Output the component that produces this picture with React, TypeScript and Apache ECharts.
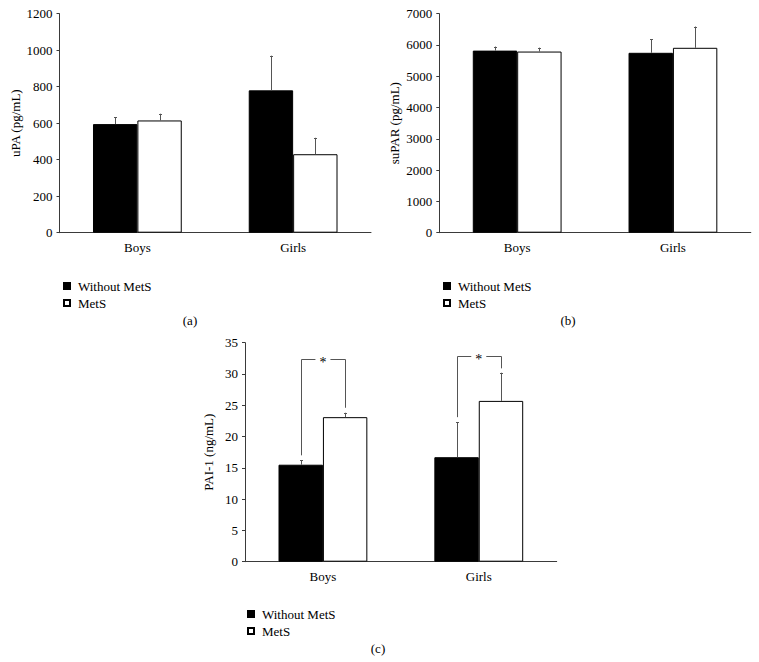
import React, { useEffect, useRef } from "react";
import * as echarts from "echarts";

const categories = ["Boys", "Girls"];
const seriesNames = ["Without MetS", "MetS"];

const uPAWithout = [595, 780];
const uPAMetS = [615, 430];
const uPAWithoutErr = [37, 190];
const uPAMetSErr = [37, 90];

const suPARWithout = [5820, 5750];
const suPARMetS = [5790, 5910];
const suPARWithoutErr = [130, 430];
const suPARMetSErr = [125, 680];

const pai1Without = [15.5, 16.7];
const pai1MetS = [23.1, 25.7];
const pai1WithoutErr = [0.7, 5.6];
const pai1MetSErr = [0.7, 4.5];

const bracketTop = [32.4, 32.9];
const bracketLeftEnd = [17.0, 23.1];
const bracketRightEnd = [24.6, 30.9];
const bracketLabel = ["*", "*"];

const FONT = "'Liberation Serif', 'DejaVu Serif', serif";
const GAP = 0.43;
const AXIS_COLOR = "#3a3a3a";
const ERR_COLOR = "#555";

function barWidthOf(api: any) {
  const band = api.size([1, 0])[0];
  return (band * (1 - GAP)) / 2;
}

function errorSeries(grid: number, means: number[], errs: number[], side: number) {
  return {
    type: "custom",
    name: "err" + grid + side,
    xAxisIndex: grid,
    yAxisIndex: grid,
    z: 5,
    silent: true,
    itemStyle: { color: ERR_COLOR },
    encode: { x: 0, y: 1 },
    data: means.map((m, i) => [i, m, errs[i]]),
    renderItem: (params: any, api: any) => {
      const i = api.value(0);
      const mean = api.value(1);
      const err = api.value(2);
      const base = api.coord([i, mean]);
      const top = api.coord([i, mean + err]);
      const bw = barWidthOf(api);
      const x = Math.round(base[0] + (side * bw) / 2) + 0.5;
      return {
        type: "group",
        children: [
          {
            type: "line",
            shape: { x1: x, y1: base[1], x2: x, y2: top[1] },
            style: { stroke: ERR_COLOR, lineWidth: 1 },
          },
          {
            type: "line",
            shape: { x1: x - 1.5, y1: Math.round(top[1]) + 0.5, x2: x + 1.5, y2: Math.round(top[1]) + 0.5 },
            style: { stroke: ERR_COLOR, lineWidth: 1 },
          },
        ],
      };
    },
  };
}

function barSeries(grid: number, name: string, values: number[], dark: boolean) {
  return {
    type: "bar",
    name,
    xAxisIndex: grid,
    yAxisIndex: grid,
    barGap: "0%",
    barCategoryGap: GAP * 100 + "%",
    data: values,
    itemStyle: dark
      ? { color: "#000", borderColor: "#000", borderWidth: 1 }
      : { color: "#fff", borderColor: "#000", borderWidth: 1 },
  };
}

const grids = [
  { left: 59.5, top: 13.7, width: 311.5, height: 219 },
  { left: 439.3, top: 13.7, width: 311.5, height: 219 },
  { left: 245, top: 342.7, width: 311.7, height: 219 },
];

const yAxisDefs = [
  { name: "uPA (pg/mL)", max: 1200, interval: 200, gap: 38 },
  { name: "suPAR (pg/mL)", max: 7000, interval: 1000, gap: 38 },
  { name: "PAI-1 (ng/mL)", max: 35, interval: 5, gap: 30 },
];

export default function App() {
  const ref = useRef<HTMLDivElement>(null);
  useEffect(() => {
    if (!ref.current) return;
    const chart = echarts.init(ref.current, null, { renderer: "svg" });
    const option: any = {
      animation: false,
      backgroundColor: "#fff",
      textStyle: { fontFamily: FONT },
      grid: grids.map((g) => ({ ...g, containLabel: false })),
      xAxis: grids.map((_, k) => ({
        type: "category",
        gridIndex: k,
        data: categories,
        axisTick: { show: false },
        axisLine: { lineStyle: { color: AXIS_COLOR, width: 1 } },
        axisLabel: { color: "#000", fontSize: 13, fontFamily: FONT, margin: 8 },
      })),
      yAxis: yAxisDefs.map((d, k) => ({
        type: "value",
        gridIndex: k,
        min: 0,
        max: d.max,
        interval: d.interval,
        name: d.name,
        nameLocation: "middle",
        nameGap: d.gap,
        nameTextStyle: { color: "#000", fontSize: 13, fontFamily: FONT },
        splitLine: { show: false },
        axisLine: { show: true, lineStyle: { color: AXIS_COLOR, width: 1 } },
        axisTick: { show: true, length: 3, lineStyle: { color: AXIS_COLOR } },
        axisLabel: {
          color: "#000",
          fontSize: 13,
          fontFamily: FONT,
          margin: 7,
          formatter: (v: number) => String(v),
        },
      })),
      legend: [
        { left: 58, top: 274 },
        { left: 438, top: 274 },
        { left: 242, top: 602 },
      ].map((p) => ({
        ...p,
        orient: "vertical",
        data: seriesNames,
        icon: "rect",
        itemWidth: 6,
        itemHeight: 6,
        itemGap: 3,
        selectedMode: false,
        textStyle: { color: "#000", fontSize: 13, fontFamily: FONT, lineHeight: 14, padding: [0, 0, 0, 3] },
      })),
      graphic: [
        { type: "text", x: 190, y: 320, style: { text: "(a)", font: `13px ${FONT}`, fill: "#000", align: "center", verticalAlign: "middle" } },
        { type: "text", x: 568, y: 320, style: { text: "(b)", font: `13px ${FONT}`, fill: "#000", align: "center", verticalAlign: "middle" } },
        { type: "text", x: 378, y: 648, style: { text: "(c)", font: `13px ${FONT}`, fill: "#000", align: "center", verticalAlign: "middle" } },
      ],
      series: [
        barSeries(0, seriesNames[0], uPAWithout, true),
        barSeries(0, seriesNames[1], uPAMetS, false),
        barSeries(1, seriesNames[0], suPARWithout, true),
        barSeries(1, seriesNames[1], suPARMetS, false),
        barSeries(2, seriesNames[0], pai1Without, true),
        barSeries(2, seriesNames[1], pai1MetS, false),
        errorSeries(0, uPAWithout, uPAWithoutErr, -1),
        errorSeries(0, uPAMetS, uPAMetSErr, 1),
        errorSeries(1, suPARWithout, suPARWithoutErr, -1),
        errorSeries(1, suPARMetS, suPARMetSErr, 1),
        errorSeries(2, pai1Without, pai1WithoutErr, -1),
        errorSeries(2, pai1MetS, pai1MetSErr, 1),
        {
          type: "custom",
          name: "brackets",
          xAxisIndex: 2,
          yAxisIndex: 2,
          z: 6,
          silent: true,
          itemStyle: { color: "#000" },
          encode: { x: 0, y: 1 },
          data: bracketTop.map((t, i) => [i, t, bracketLeftEnd[i], bracketRightEnd[i]]),
          renderItem: (params: any, api: any) => {
            const i = api.value(0);
            const topPt = api.coord([i, api.value(1)]);
            const leftEnd = api.coord([i, api.value(2)]);
            const rightEnd = api.coord([i, api.value(3)]);
            const bw = barWidthOf(api);
            const cx = topPt[0];
            const xl = Math.round(cx - bw / 2) + 0.5;
            const xr = Math.round(cx + bw / 2) + 0.5;
            const y = Math.round(topPt[1]) + 0.5;
            const style = { stroke: ERR_COLOR, lineWidth: 1, fill: "none" };
            return {
              type: "group",
              children: [
                {
                  type: "polyline",
                  shape: { points: [[xl, leftEnd[1]], [xl, y], [cx - 7.5, y]] },
                  style,
                },
                {
                  type: "polyline",
                  shape: { points: [[cx + 7.5, y], [xr, y], [xr, rightEnd[1]]] },
                  style,
                },
                {
                  type: "text",
                  x: cx,
                  y: y + 3,
                  style: {
                    text: bracketLabel[i],
                    fontSize: 14,
                    fontFamily: FONT,
                    fill: "#000",
                    align: "center",
                    verticalAlign: "middle",
                  },
                },
              ],
            };
          },
        },
      ],
    };
    chart.setOption(option);
    return () => chart.dispose();
  }, []);
  return (
    <div
      ref={ref}
      style={{ position: "fixed", left: 0, top: 0, width: 759, height: 662, background: "#fff" }}
    />
  );
}
